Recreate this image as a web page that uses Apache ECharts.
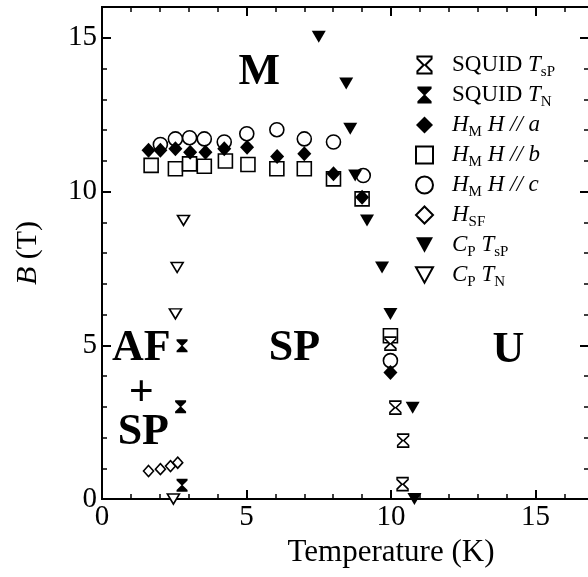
<!DOCTYPE html>
<html>
<head>
<meta charset="utf-8">
<script src="https://cdn.jsdelivr.net/npm/echarts@6/dist/echarts.min.js"></script>
<style>
html,body{margin:0;padding:0;background:#fff;}
#c{width:588px;height:577px;}
</style>
</head>
<body>
<div id="c"></div>
<script>
// ---- data (T in K, B in T) ----
var squidTsP = [[9.98,5.05],[10.15,2.97],[10.42,1.90],[10.40,0.48]];
var squidTN  = [[2.77,4.98],[2.72,3.00],[2.77,0.45]];
var hmA = [[1.61,11.34],[2.02,11.34],[2.54,11.39],[3.05,11.28],[3.58,11.28],[4.23,11.39],[5.02,11.44],[6.06,11.14],[7.00,11.23],[8.01,10.58],[9.00,9.81],[9.98,4.11]];
var hmB = [[1.70,10.85],[2.54,10.74],[3.03,10.90],[3.54,10.82],[4.27,10.99],[5.05,10.88],[6.05,10.74],[7.00,10.74],[8.01,10.41],[9.00,9.76],[9.98,5.31]];
var hmC = [[2.02,11.53],[2.54,11.71],[3.03,11.75],[3.54,11.71],[4.23,11.61],[5.01,11.88],[6.05,12.01],[7.00,11.71],[8.01,11.61],[9.04,10.52],[9.98,4.50]];
var hSF = [[1.61,0.91],[2.02,0.97],[2.37,1.07],[2.62,1.18]];
var cpTsP = [[7.50,15.03],[8.45,13.51],[8.59,12.04],[8.76,10.52],[9.17,9.06],[9.69,7.53],[9.98,6.02],[10.75,2.97],[10.81,0.0]];
var cpTN  = [[2.82,9.06],[2.60,7.53],[2.54,6.02],[2.47,0.0]];
var regionNames = ['M','SP','U','AF','+','SP'];
var regionPos = [[5.44,13.88],[6.66,4.89],[14.06,4.82],[1.36,4.89],[1.36,3.42],[1.43,2.15]];
var seriesNames = ['SQUID TsP','SQUID TN','HM a','HM b','HM c','HSF','Cp TsP','Cp TN'];
var legendTexts = [
  'SQUID {i|T}{s|sP}',
  'SQUID {i|T}{s|N}',
  '{i|H}{s|M} {i|H // a}',
  '{i|H}{s|M} {i|H // b}',
  '{i|H}{s|M} {i|H // c}',
  '{i|H}{s|SF}',
  '{i|C}{s|P} {i|T}{s|sP}',
  '{i|C}{s|P} {i|T}{s|N}'
];
var xTicksMajor = 5, xTicksMinor = 1, yTicksMajor = 5, yTicksMinor = 1;

var FONT = 'Liberation Serif';
var hourglass = 'path://M0,0H10V1.6L5.6,6L10,10.4V12H0V10.4L4.4,6L0,1.6Z';
var downTri = 'path://M0,0H10L5,9Z';

var chart = echarts.init(document.getElementById('c'));

function xAx(pos, interval, len, width, labels) {
  return {
    type:'value', position:pos, min:0, max:20, interval:interval,
    axisLine:{show:true, onZero:false, lineStyle:{color:'#000', width:2}},
    axisTick:{show:true, inside:true, length:len, lineStyle:{color:'#000', width:width}},
    axisLabel:{show:labels, color:'#000', fontFamily:FONT, fontSize:29, margin:4, showMaxLabel:false},
    splitLine:{show:false}
  };
}
function yAx(pos, interval, len, width, labels, offset, line) {
  return {
    type:'value', position:pos, min:0, max:16, interval:interval, offset:offset || 0,
    axisLine:{show:line !== false, onZero:false, lineStyle:{color:'#000', width:2}},
    axisTick:{show:true, inside:true, length:len, lineStyle:{color:'#000', width:width}},
    axisLabel:{show:labels, color:'#000', fontFamily:FONT, fontSize:29, margin:5, showMaxLabel:false},
    splitLine:{show:false}
  };
}

var xMain = xAx('bottom', xTicksMajor, 9, 2, true);
xMain.name = 'Temperature (K)';
xMain.nameLocation = 'middle';
xMain.nameGap = 29;
xMain.nameTextStyle = {color:'#000', fontFamily:FONT, fontSize:31};
var yMain = yAx('left', yTicksMajor, 9, 2, true);
yMain.name = '{i|B} (T)';
yMain.nameLocation = 'middle';
yMain.nameGap = 59;
yMain.nameTextStyle = {color:'#000', fontFamily:FONT, fontSize:30, rich:{i:{fontStyle:'italic', fontFamily:FONT, fontSize:30, color:'#000'}}};

var richLegend = {
  i:{fontStyle:'italic', fontFamily:FONT, fontSize:23, color:'#000', lineHeight:30},
  s:{fontFamily:FONT, fontSize:15, color:'#000', lineHeight:14, verticalAlign:'bottom'}
};

function mk(name, data, symbol, size, fill, z) {
  return {
    name:name, type:'scatter', data:data, symbol:symbol, symbolSize:size, z:z,
    xAxisIndex:0, yAxisIndex:0,
    itemStyle:{color:fill, borderColor:'#000', borderWidth:fill === '#fff' ? 1.6 : 0, opacity:1},
    emphasis:{disabled:true}
  };
}

var series = [
  mk(seriesNames[0], squidTsP, hourglass, [11,13], '#fff', 5),
  mk(seriesNames[1], squidTN, hourglass, [11,13], '#000', 5),
  mk(seriesNames[2], hmA, 'diamond', [14,15], '#000', 6),
  mk(seriesNames[3], hmB, 'rect', [14,14], '#fff', 3),
  mk(seriesNames[4], hmC, 'circle', [14,14], '#fff', 4),
  mk(seriesNames[5], hSF, 'diamond', [10,11], '#fff', 4),
  mk(seriesNames[6], cpTsP, downTri, [14,12], '#000', 5),
  mk(seriesNames[7], cpTN, downTri, [12,10], '#fff', 5),
  {
    name:'regions', type:'scatter', symbol:'circle', symbolSize:1, silent:true, z:10,
    itemStyle:{color:'#000', opacity:0},
    emphasis:{disabled:true},
    data: regionNames.map(function(n,i){ return {name:n, value:regionPos[i]}; }),
    label:{show:true, position:'inside', formatter:'{b}', color:'#000', opacity:1, textBorderWidth:0,
           fontFamily:FONT, fontWeight:'bold', fontSize:44}
  }
];

chart.setOption({
  animation:false,
  backgroundColor:'#fff',
  grid:{left:102, right:-92, top:7, bottom:78, containLabel:false, outerBoundsMode:'none'},
  xAxis:[xMain, xAx('bottom', xTicksMinor, 5, 1.5, false), xAx('top', xTicksMajor, 9, 2, false), xAx('top', xTicksMinor, 5, 1.5, false)],
  yAxis:[yMain, yAx('left', yTicksMinor, 5, 1.5, false),
         yAx('right', yTicksMajor, 8, 2, false, -92, false), yAx('right', yTicksMinor, 4, 1.5, false, -92, false)],
  legend:{
    data:seriesNames, orient:'vertical', left:410, top:45, itemWidth:17, itemHeight:17, itemGap:0,
    selectedMode:false,
    formatter:function(n){ return legendTexts[seriesNames.indexOf(n)]; },
    textStyle:{color:'#000', fontFamily:FONT, fontSize:23, lineHeight:30, padding:[0,0,0,14], rich:richLegend}
  },
  series:series
});
</script>
</body>
</html>
